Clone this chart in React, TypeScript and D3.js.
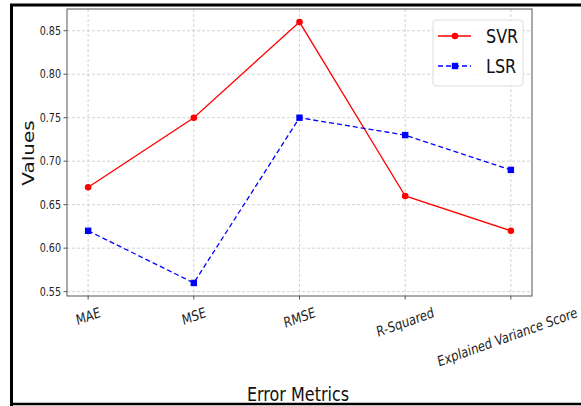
import { useEffect, useRef } from "react";
import * as d3 from "d3";

const metrics = ["MAE", "MSE", "RMSE", "R-Squared", "Explained Variance Score"];
const svrValues = [0.67, 0.75, 0.86, 0.66, 0.62];
const lsrValues = [0.62, 0.56, 0.75, 0.73, 0.69];
const yTicks = [0.55, 0.6, 0.65, 0.7, 0.75, 0.8, 0.85];

const FONT = "DejaVu Sans, sans-serif";
const SX = 0.8; // the picture is squeezed horizontally

export default function App() {
  const ref = useRef<SVGSVGElement | null>(null);

  useEffect(() => {
    if (!ref.current) return;
    const svg = d3.select(ref.current);
    svg.selectAll("*").remove();

    const left = 67, right = 532, top = 9, bottom = 296;

    const x = d3.scaleLinear().domain([-0.2, metrics.length - 1 + 0.2]).range([left, right]);
    const y = d3.scaleLinear().domain([0.545, 0.875]).range([bottom, top]);

    // outer black frame
    svg.append("path")
      .attr("d", `M 11.5 406 L 11.5 5 L 590 5`)
      .attr("fill", "none").attr("stroke", "#000").attr("stroke-width", 3);
    svg.append("line")
      .attr("x1", 10).attr("x2", 590).attr("y1", 404).attr("y2", 404)
      .attr("stroke", "#000").attr("stroke-width", 2.5);

    // grid
    const grid = svg.append("g").attr("stroke", "#c8c8c8").attr("stroke-width", 0.8)
      .attr("stroke-dasharray", "3,2");
    yTicks.forEach((t) => {
      grid.append("line").attr("x1", left).attr("x2", right).attr("y1", y(t)).attr("y2", y(t));
    });
    metrics.forEach((_, i) => {
      grid.append("line").attr("x1", x(i)).attr("x2", x(i)).attr("y1", top).attr("y2", bottom);
    });

    // plot frame
    svg.append("rect")
      .attr("x", left).attr("y", top).attr("width", right - left).attr("height", bottom - top)
      .attr("fill", "none").attr("stroke", "#555").attr("stroke-width", 1);

    // y ticks
    const yg = svg.append("g");
    yTicks.forEach((t) => {
      yg.append("line").attr("x1", left - 3.5).attr("x2", left).attr("y1", y(t)).attr("y2", y(t))
        .attr("stroke", "#555");
      yg.append("text")
        .attr("transform", `translate(${left - 6},${y(t)}) scale(${SX},1)`)
        .attr("text-anchor", "end").attr("dominant-baseline", "central")
        .attr("font-family", FONT).attr("font-size", 12).attr("fill", "#222")
        .text(d3.format(".2f")(t));
    });

    // x ticks, rotated labels
    const xg = svg.append("g");
    const angle = 16;
    const rad = (angle * Math.PI) / 180;
    const fs = 14.3;
    metrics.forEach((m, i) => {
      xg.append("line").attr("x1", x(i)).attr("x2", x(i)).attr("y1", bottom).attr("y2", bottom + 3.5)
        .attr("stroke", "#555");
      const t = xg.append("text")
        .attr("text-anchor", "middle").attr("dominant-baseline", "central")
        .attr("font-family", FONT).attr("font-size", fs).attr("fill", "#222")
        .text(m);
      const len = (t.node() as SVGTextElement).getComputedTextLength();
      const h = len * Math.sin(rad) + fs * 1.16 * Math.cos(rad);
      // keep the long last label inside the window
      const maxHalf = 579 - x(i);
      const halfW = (len * Math.cos(rad) * SX) / 2 + 2;
      const cx = halfW > maxHalf ? 579 - halfW : x(i);
      t.attr("transform", `translate(${cx},${304 + h / 2}) scale(${SX},1) rotate(${-angle})`);
    });

    // axis titles
    svg.append("text")
      .attr("transform", `translate(28,153) scale(${SX},1) rotate(-90)`)
      .attr("text-anchor", "middle").attr("dominant-baseline", "central")
      .attr("font-family", FONT).attr("font-size", 20).attr("fill", "#111")
      .text("Values");
    svg.append("text")
      .attr("transform", `translate(298,401) scale(${SX},1)`)
      .attr("text-anchor", "middle")
      .attr("font-family", FONT).attr("font-size", 20).attr("fill", "#111")
      .text("Error Metrics");

    // series
    const line = d3.line<number>().x((_, i) => x(i)).y((d) => y(d));
    svg.append("path").datum(svrValues).attr("d", line)
      .attr("fill", "none").attr("stroke", "#ff0000").attr("stroke-width", 1.3);
    svg.append("path").datum(lsrValues).attr("d", line)
      .attr("fill", "none").attr("stroke", "#0000ff").attr("stroke-width", 1.3)
      .attr("stroke-dasharray", "5,3");
    svg.append("g").selectAll("circle").data(svrValues).join("circle")
      .attr("cx", (_, i) => x(i)).attr("cy", (d) => y(d)).attr("r", 3.3).attr("fill", "#ff0000");
    svg.append("g").selectAll("rect").data(lsrValues).join("rect")
      .attr("x", (_, i) => x(i) - 3.2).attr("y", (d) => y(d) - 3.2)
      .attr("width", 6.4).attr("height", 6.4).attr("fill", "#0000ff");

    // legend
    const lg = svg.append("g");
    lg.append("rect").attr("x", 433).attr("y", 20).attr("width", 90).attr("height", 66).attr("rx", 3)
      .attr("fill", "#fff").attr("fill-opacity", 0.85).attr("stroke", "#ddd").attr("stroke-width", 1);
    const entries = [
      { name: "SVR", color: "#ff0000", dash: null as string | null, marker: "circle", cy: 36 },
      { name: "LSR", color: "#0000ff", dash: "5,3", marker: "square", cy: 66 },
    ];
    entries.forEach((e) => {
      const l = lg.append("line").attr("x1", 438).attr("x2", 471).attr("y1", e.cy).attr("y2", e.cy)
        .attr("stroke", e.color).attr("stroke-width", 1.3);
      if (e.dash) l.attr("stroke-dasharray", e.dash);
      if (e.marker === "circle") {
        lg.append("circle").attr("cx", 455).attr("cy", e.cy).attr("r", 3.3).attr("fill", e.color);
      } else {
        lg.append("rect").attr("x", 455 - 3.2).attr("y", e.cy - 3.2).attr("width", 6.4).attr("height", 6.4)
          .attr("fill", e.color);
      }
      lg.append("text")
        .attr("transform", `translate(486,${e.cy + 7}) scale(${SX},1)`)
        .attr("font-family", FONT).attr("font-size", 20).attr("fill", "#111")
        .text(e.name);
    });
  }, []);

  return (
    <svg
      ref={ref}
      width={581}
      height={406}
      style={{ position: "absolute", left: 0, top: 0, background: "#fff" }}
    />
  );
}
